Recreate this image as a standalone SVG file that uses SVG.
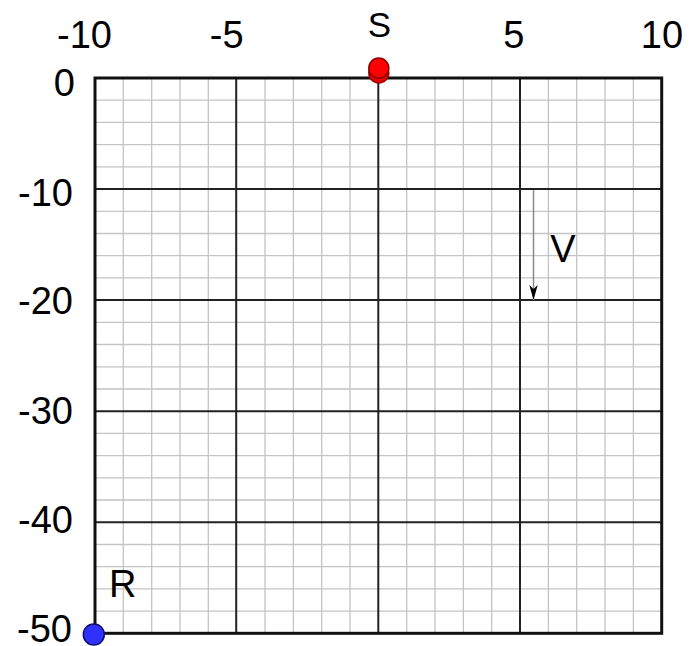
<svg xmlns="http://www.w3.org/2000/svg" width="690" height="646" viewBox="0 0 690 646">
  <style>
    .minor { stroke: #c4c4c4; stroke-width: 1.3; fill: none; }
    .major { stroke: #222; stroke-width: 2; fill: none; }
    .border { stroke: #111; stroke-width: 3; fill: none; }
    .lbl { font-family: "Liberation Sans", Arial, sans-serif; font-size: 38px; fill: #000; }
    .mid { text-anchor: middle; }
    .end { text-anchor: end; }
  </style>
  <defs>
    <marker id="head" markerUnits="userSpaceOnUse" markerWidth="16" markerHeight="10" refX="15" refY="5" orient="auto">
      <path d="M0,0.8 L15,5 L0,9.2 L4,5 z" fill="#000"/>
    </marker>
  </defs>
  <rect width="690" height="646" fill="#fff"/>
  <g id="grid">
    <path class="minor" d="M123.3,78V633.3M151.7,78V633.3M180,78V633.3M208.3,78V633.3M265,78V633.3M293.4,78V633.3M321.7,78V633.3M350,78V633.3M406.7,78V633.3M435,78V633.3M463.4,78V633.3M491.7,78V633.3M548.4,78V633.3M576.7,78V633.3M605,78V633.3M633.4,78V633.3
    M95,100.2H661.7M95,122.4H661.7M95,144.6H661.7M95,166.8H661.7M95,211.3H661.7M95,233.5H661.7M95,255.7H661.7M95,277.9H661.7M95,322.3H661.7M95,344.5H661.7M95,366.8H661.7M95,389H661.7M95,433.4H661.7M95,455.6H661.7M95,477.8H661.7M95,500H661.7M95,544.5H661.7M95,566.7H661.7M95,588.9H661.7M95,611.1H661.7"/>
    <path class="major" d="M236.2,78V633.3M378.3,78V633.3M520,78V633.3M95,189.1H661.7M95,300.1H661.7M95,411.2H661.7M95,522.2H661.7"/>
    <rect class="border" x="95" y="78" width="566.7" height="555.3"/>
  </g>
  <g id="axis-labels" class="lbl">
    <text class="mid" x="84.5" y="48">-10</text>
    <text class="mid" x="226.7" y="48">-5</text>
    <text class="mid" x="513.7" y="48">5</text>
    <text class="mid" x="662" y="48">10</text>
    <text class="end" x="75" y="96">0</text>
    <text class="end" x="73" y="206">-10</text>
    <text class="end" x="73" y="314">-20</text>
    <text class="end" x="73" y="424">-30</text>
    <text class="end" x="73" y="533">-40</text>
    <text class="end" x="72" y="642">-50</text>
  </g>
  <g id="connectors">
    <line id="V-arrow" x1="533.5" y1="190" x2="533.5" y2="300" stroke="#8a8a8a" stroke-width="1.5" marker-end="url(#head)"/>
    <text class="lbl mid" x="563" y="262">V</text>
  </g>
  <g id="node-S">
    <circle cx="378.8" cy="73" r="10" fill="#e00000" stroke="#a00000" stroke-width="1.5"/>
    <circle cx="378.8" cy="68" r="10" fill="#ff0000" stroke="#8a0000" stroke-width="1.5"/>
    <text class="lbl mid" x="379.5" y="37" style="font-size:35px">S</text>
  </g>
  <g id="node-R">
    <circle cx="93.8" cy="634.5" r="10.5" fill="#3030ff" stroke="#10106a" stroke-width="1.5"/>
    <text class="lbl" x="109" y="597">R</text>
  </g>
</svg>
